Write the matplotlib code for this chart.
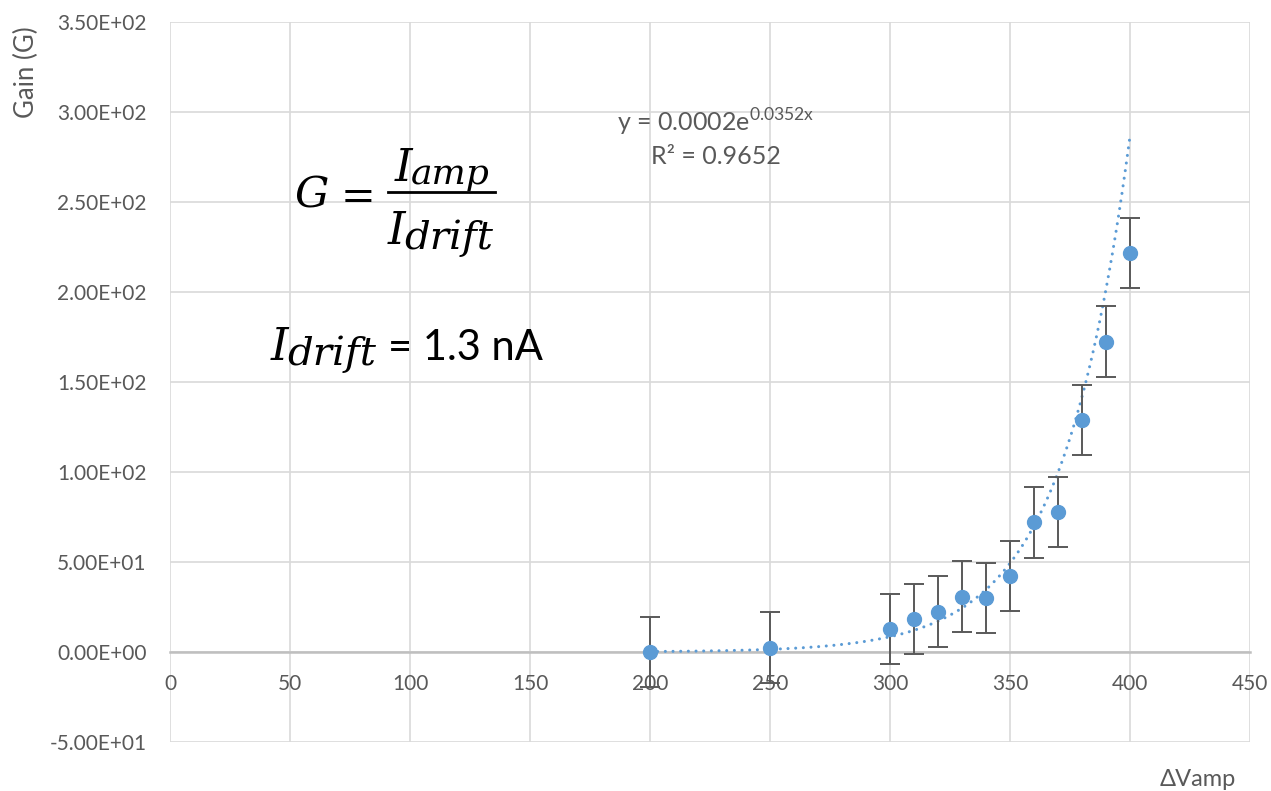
import numpy as np
import matplotlib
matplotlib.use("Agg")
import matplotlib.pyplot as plt
from matplotlib.lines import Line2D

plt.rcParams["font.family"] = ["Lato", "DejaVu Sans"]
plt.rcParams["mathtext.fontset"] = "custom"
plt.rcParams["mathtext.rm"] = "Lato"

# data
dvamp = [200, 250, 300, 310, 320, 330, 340, 350, 360, 370, 380, 390, 400]
gain = [0.0, 2.5, 12.8, 18.2, 22.5, 30.8, 30.2, 42.2, 72.0, 78.0, 129.0, 172.5, 221.5]
gain_err = 19.5
# exponential trendline (Excel): y = a e^(b x)
trend_a, trend_b = 0.00022, 0.0352
x_ticks = list(range(0, 451, 50))
y_ticks = list(range(-50, 351, 50))

BLUE = "#5b9bd5"
GREY = "#595959"
W, H = 1271, 791


def px(x, y):
    # pixel position -> figure fraction
    return x / W, 1 - y / H


fig = plt.figure(figsize=(W / 100, H / 100), dpi=100)
ax = fig.add_axes([170 / W, 1 - 742 / H, 1080 / W, 720 / H])

ax.set_xlim(0, 450)
ax.set_ylim(-50, 350)
ax.set_xticks(x_ticks)
ax.set_yticks(y_ticks)
ax.set_yticklabels([f"{v:.2E}" for v in y_ticks])
ax.grid(True, color="#d9d9d9", lw=1.2)
ax.set_axisbelow(True)
for s in ["top", "right", "left"]:
    ax.spines[s].set_visible(False)
ax.spines["bottom"].set_position(("data", 0))
ax.spines["bottom"].set_color("#bfbfbf")
ax.spines["bottom"].set_linewidth(1.8)
ax.tick_params(axis="both", length=0, colors=GREY, labelsize=15)
ax.tick_params(axis="x", pad=16)
ax.tick_params(axis="y", pad=17)

xt = np.linspace(200, 400, 300)
ax.plot(xt, trend_a * np.exp(trend_b * xt), ls=(0, (0.01, 2.5)), lw=2.2,
        dash_capstyle="round", color=BLUE, zorder=3)
ax.errorbar(dvamp, gain, yerr=gain_err, fmt="o", ms=10, color=BLUE,
            ecolor=GREY, elinewidth=1.4, capsize=7, capthick=1.4, zorder=4)

ax.text(227.5, 294, r"y = 0.0002e$^{\mathrm{0.0352x}}$", fontsize=18,
        color=GREY, ha="center", va="center")
ax.text(227.5, 275, "R² = 0.9652", fontsize=18, color=GREY, ha="center", va="center")

# G = I_amp / I_drift, laid out piece by piece
serif = dict(family="DejaVu Serif", style="italic", color="black", va="baseline", ha="left")
fig.text(*px(294, 208), "G", fontsize=31, **serif)
fig.text(*px(341, 210), "=", fontsize=30, family="DejaVu Serif", color="black",
         va="baseline", ha="left")
fig.add_artist(Line2D([388 / W, 495 / W], [1 - 192 / H] * 2, lw=2,
                      color="black", transform=fig.transFigure))
fig.text(*px(395, 181), "I", fontsize=32, **serif)
fig.text(*px(411, 184), "amp", fontsize=26, **serif)
fig.text(*px(388, 244), "I", fontsize=32, **serif)
fig.text(*px(404, 249), "drift", fontsize=29, **serif)

# I_drift = 1.3 nA
fig.text(*px(271, 360), "I", fontsize=32, **serif)
fig.text(*px(287, 365), "drift", fontsize=29, **serif)
fig.text(*px(388, 360), "= 1.3 nA", fontsize=30, color="black", va="baseline", ha="left")

fig.text(*px(26, 72), "Gain (G)", rotation=90, fontsize=18.5,
         color=GREY, ha="center", va="center")
fig.text(*px(1198, 779), "ΔVamp", fontsize=17, color=GREY,
         ha="center", va="center")

fig.savefig("out.png", dpi=100)
